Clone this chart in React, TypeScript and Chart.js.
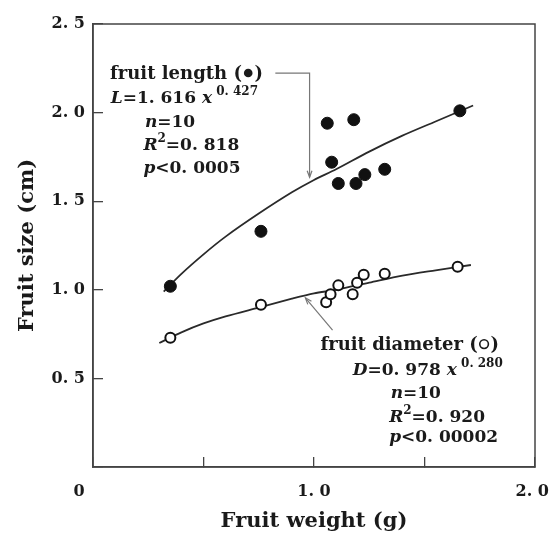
import React, { useEffect, useRef } from "react";
import { Chart, registerables } from "chart.js";

Chart.register(...registerables);

const lengthWeight = [0.35, 0.76, 1.06, 1.08, 1.11, 1.18, 1.19, 1.23, 1.32, 1.66];
const lengthSize = [1.02, 1.33, 1.94, 1.72, 1.6, 1.96, 1.6, 1.65, 1.68, 2.01];

const diameterWeight = [0.35, 0.76, 1.055, 1.075, 1.11, 1.175, 1.195, 1.225, 1.32, 1.65];
const diameterSize = [0.73, 0.915, 0.93, 0.975, 1.025, 0.975, 1.04, 1.085, 1.09, 1.13];

// Fitted curves
const lengthFitX = [0.32, 0.4, 0.5, 0.6, 0.75, 0.9, 1.0, 1.1, 1.25, 1.4, 1.55, 1.72];
const lengthFitY = [0.99, 1.09, 1.2, 1.3, 1.43, 1.55, 1.62, 1.68, 1.78, 1.87, 1.95, 2.04];
const diameterFitX = [0.3, 0.4, 0.5, 0.6, 0.75, 0.9, 1.0, 1.1, 1.25, 1.4, 1.55, 1.71];
const diameterFitY = [0.7, 0.76, 0.81, 0.85, 0.9, 0.95, 0.98, 1.0, 1.04, 1.08, 1.11, 1.14];

// Tick labels
const xTickLabels = ["0     ", "", "1. 0", "", "2. 0 "];
const yTickLabels = ["", "0. 5", "1. 0", "1. 5", "2. 0", "2. 5"];

const xTitle = "Fruit weight (g)";
const yTitle = "Fruit size (cm)";

const FONT = "'DejaVu Serif', 'Liberation Serif', serif";
const INK = "#1a1a1a";

type Seg = { t?: string; it?: boolean; sup?: boolean; dot?: "fill" | "open" };

function drawRich(ctx: CanvasRenderingContext2D, x: number, y: number, segs: Seg[], size: number) {
  let cx = x;
  for (const s of segs) {
    if (s.dot) {
      const r = size * 0.24;
      const cxp = cx + r + 2;
      const cyp = y - size * 0.33;
      ctx.beginPath();
      ctx.arc(cxp, cyp, r, 0, Math.PI * 2);
      if (s.dot === "fill") {
        ctx.fill();
      } else {
        ctx.save();
        ctx.strokeStyle = INK;
        ctx.lineWidth = 1.6;
        ctx.stroke();
        ctx.restore();
      }
      cx += 2 * r + 4;
      continue;
    }
    const t = s.t || "";
    const fs = s.sup ? Math.round(size * 0.72) : size;
    ctx.font = `${s.it ? "italic " : ""}bold ${fs}px ${FONT}`;
    const dy = s.sup ? -size * 0.45 : 0;
    ctx.fillText(t, cx, y + dy);
    cx += ctx.measureText(t).width;
  }
}

function arrowHead(ctx: CanvasRenderingContext2D, fx: number, fy: number, tx: number, ty: number) {
  const a = Math.atan2(ty - fy, tx - fx);
  const L = 7;
  ctx.beginPath();
  ctx.moveTo(tx - L * Math.cos(a - 0.35), ty - L * Math.sin(a - 0.35));
  ctx.lineTo(tx, ty);
  ctx.lineTo(tx - L * Math.cos(a + 0.35), ty - L * Math.sin(a + 0.35));
  ctx.stroke();
}

const framePlugin = {
  id: "frameAndNotes",
  afterDraw(chart: any) {
    const { ctx, chartArea: ca, scales } = chart;
    const X = (v: number) => scales.x.getPixelForValue(v);
    const Y = (v: number) => scales.y.getPixelForValue(v);
    ctx.save();
    // frame
    ctx.strokeStyle = "#444";
    ctx.lineWidth = 1.5;
    ctx.strokeRect(ca.left, ca.top, ca.right - ca.left, ca.bottom - ca.top);

    // annotations text
    ctx.fillStyle = INK;
    ctx.textBaseline = "alphabetic";
    ctx.textAlign = "left";
    const big = 18;
    const eq = 17;
    drawRich(ctx, X(0.077), Y(2.19), [{ t: "fruit length (" }, { dot: "fill" }, { t: ")" }], big);
    drawRich(ctx, X(0.08), Y(2.054), [{ t: "L", it: true }, { t: "=1. 616 " }, { t: "x", it: true }, { t: " 0. 427", sup: true }], eq);
    drawRich(ctx, X(0.235), Y(1.919), [{ t: "n", it: true }, { t: "=10" }], eq);
    drawRich(ctx, X(0.228), Y(1.789), [{ t: "R", it: true }, { t: "2", sup: true }, { t: "=0. 818" }], eq);
    drawRich(ctx, X(0.228), Y(1.659), [{ t: "p", it: true }, { t: "<0. 0005" }], eq);

    drawRich(ctx, X(1.029), Y(0.66), [{ t: "fruit diameter (" }, { dot: "open" }, { t: ")" }], big);
    drawRich(ctx, X(1.175), Y(0.519), [{ t: "D", it: true }, { t: "=0. 978 " }, { t: "x", it: true }, { t: " 0. 280", sup: true }], eq);
    drawRich(ctx, X(1.347), Y(0.389), [{ t: "n", it: true }, { t: "=10" }], eq);
    drawRich(ctx, X(1.34), Y(0.254), [{ t: "R", it: true }, { t: "2", sup: true }, { t: "=0. 920" }], eq);
    drawRich(ctx, X(1.34), Y(0.141), [{ t: "p", it: true }, { t: "<0. 00002" }], eq);

    // leader lines
    ctx.strokeStyle = "#777";
    ctx.lineWidth = 1.2;
    ctx.beginPath();
    ctx.moveTo(X(0.825), Y(2.223));
    ctx.lineTo(X(0.98), Y(2.223));
    ctx.lineTo(X(0.98), Y(1.635));
    ctx.stroke();
    arrowHead(ctx, X(0.98), Y(2.0), X(0.98), Y(1.635));

    ctx.beginPath();
    ctx.moveTo(X(1.084), Y(0.773));
    ctx.lineTo(X(0.961), Y(0.955));
    ctx.stroke();
    arrowHead(ctx, X(1.084), Y(0.773), X(0.961), Y(0.955));
    ctx.restore();
  },
};

export default function App() {
  const ref = useRef<HTMLCanvasElement | null>(null);

  useEffect(() => {
    if (!ref.current) return;
    const pts = (xs: number[], ys: number[]) => xs.map((x, i) => ({ x, y: ys[i] }));
    const tickFont = { family: FONT, size: 16, weight: "bold" as const };
    const titleFont = { family: FONT, size: 21, weight: "bold" as const };

    const chart = new Chart(ref.current, {
      type: "scatter",
      data: {
        datasets: [
          {
            label: "length fit",
            data: pts(lengthFitX, lengthFitY),
            showLine: true,
            borderColor: "#2a2a2a",
            borderWidth: 1.8,
            pointRadius: 0,
            tension: 0.3,
            order: 2,
          },
          {
            label: "diameter fit",
            data: pts(diameterFitX, diameterFitY),
            showLine: true,
            borderColor: "#2a2a2a",
            borderWidth: 1.8,
            pointRadius: 0,
            tension: 0.3,
            order: 2,
          },
          {
            label: "fruit length",
            data: pts(lengthWeight, lengthSize),
            pointRadius: 6,
            pointBackgroundColor: "#111",
            pointBorderColor: "#111",
            pointBorderWidth: 1,
            order: 0,
          },
          {
            label: "fruit diameter",
            data: pts(diameterWeight, diameterSize),
            pointRadius: 5,
            pointBackgroundColor: "#fff",
            pointBorderColor: "#111",
            pointBorderWidth: 2,
            order: 0,
          },
        ],
      },
      options: {
        animation: false,
        responsive: true,
        maintainAspectRatio: false,
        layout: { padding: { left: 0, right: 15, top: 24, bottom: 0 } },
        plugins: { legend: { display: false }, tooltip: { enabled: false } },
        scales: {
          x: {
            type: "linear",
            min: 0,
            max: 2,
            afterFit: (s: any) => {
              s.height = 67;
              s.paddingLeft = 0;
              s.paddingRight = 0;
            },
            ticks: {
              stepSize: 0.5,
              color: INK,
              font: tickFont,
              padding: 25,
              maxRotation: 0,
              autoSkip: false,
              callback: (_v: any, i: number) => xTickLabels[i] ?? "",
            },
            grid: { drawOnChartArea: false, drawTicks: true, tickLength: -10, color: "#444", lineWidth: 1.3 },
            border: { color: "#444", width: 1.5 },
            title: { display: true, text: xTitle, color: INK, font: titleFont, padding: { top: 0, bottom: 0 } },
          },
          y: {
            type: "linear",
            min: 0,
            max: 2.5,
            afterFit: (s: any) => {
              s.width = 93;
              s.paddingTop = 0;
              s.paddingBottom = 0;
            },
            ticks: {
              stepSize: 0.5,
              color: INK,
              font: tickFont,
              padding: 18,
              autoSkip: false,
              callback: (_v: any, i: number) => yTickLabels[i] ?? "",
            },
            grid: { drawOnChartArea: false, drawTicks: true, tickLength: -10, color: "#444", lineWidth: 1.3 },
            border: { color: "#444", width: 1.5 },
            title: { display: true, text: yTitle, color: INK, font: titleFont, padding: { top: 15, bottom: 0 } },
          },
        },
      },
      plugins: [framePlugin],
    });
    return () => chart.destroy();
  }, []);

  return (
    <div style={{ position: "fixed", left: 0, top: 0, width: 550, height: 534, background: "#fff" }}>
      <canvas ref={ref} />
    </div>
  );
}
